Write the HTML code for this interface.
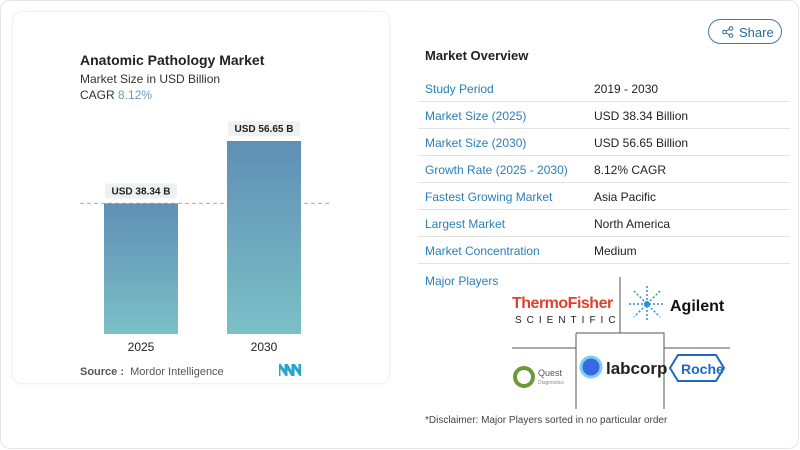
<!DOCTYPE html>
<html><head><meta charset="utf-8">
<style>
*{margin:0;padding:0;box-sizing:border-box}
body{width:800px;height:450px;background:#fff;font-family:"Liberation Sans",sans-serif;position:relative;overflow:hidden}
.outer{position:absolute;left:0;top:0;width:799px;height:449px;border:1px solid #e4e4e4;border-radius:10px}
.card{position:absolute;left:12px;top:11px;width:378px;height:373px;border:1px solid #f1f1f1;border-radius:10px;box-shadow:0 0 6px rgba(0,0,0,0.04)}
.abs{position:absolute;white-space:nowrap}
.row{position:absolute;left:418px;width:372px;height:27px;border-bottom:1px solid #e3e3e3;font-size:12px}
.row .l{position:absolute;left:7px;top:7px;color:#2a7fb8}
.row .v{position:absolute;left:176px;top:7px;color:#222}
</style></head><body>
<div class="outer"></div>
<div class="card"></div>
<div class="abs" style="left:80px;top:52px;font-size:14px;font-weight:bold;color:#222">Anatomic Pathology Market</div>
<div class="abs" style="left:80px;top:72px;font-size:12px;color:#333">Market Size in USD Billion</div>
<div class="abs" style="left:80px;top:88px;font-size:12px;color:#333">CAGR <span style="color:#6a9ac0">8.12%</span></div>
<svg id="chart" class="abs" style="left:0;top:0" width="400" height="400">
<defs><linearGradient id="g" x1="0" y1="0" x2="0" y2="1"><stop offset="0" stop-color="#5f8fb5"/><stop offset="1" stop-color="#7cc0c7"/></linearGradient></defs>
</svg>
<div class="abs" style="left:80px;top:366px;font-size:11px;color:#555"><b style="color:#555">Source :</b> &nbsp;Mordor Intelligence</div>
<svg class="abs" style="left:279px;top:364px" width="22" height="12"><path d="M0 12V0L7 10V0L14 12V0L21 10V0" fill="none" stroke="#2aa6c9" stroke-width="3"/></svg>

<div class="abs" style="left:708px;top:19px;width:74px;height:25px;border:1px solid #3a7ca8;border-radius:13px;font-size:13px;color:#2a6a98;padding:5px 0 0 30px">Share
<svg style="position:absolute;left:13px;top:6px" width="12" height="12"><circle cx="9" cy="2.5" r="1.8" fill="none" stroke="#2a6a98"/><circle cx="9" cy="9.5" r="1.8" fill="none" stroke="#2a6a98"/><circle cx="2.5" cy="6" r="1.8" fill="none" stroke="#2a6a98"/><path d="M4 5L7.5 3M4 7L7.5 9" stroke="#2a6a98"/></svg></div>
<div class="abs" style="left:425px;top:48px;font-size:13px;font-weight:bold;color:#222">Market Overview</div>
<div class="row" style="top:75px"><span class="l">Study Period</span><span class="v">2019 - 2030</span></div>
<div class="row" style="top:102px"><span class="l">Market Size (2025)</span><span class="v">USD 38.34 Billion</span></div>
<div class="row" style="top:129px"><span class="l">Market Size (2030)</span><span class="v">USD 56.65 Billion</span></div>
<div class="row" style="top:156px"><span class="l">Growth Rate (2025 - 2030)</span><span class="v">8.12% CAGR</span></div>
<div class="row" style="top:183px"><span class="l">Fastest Growing Market</span><span class="v">Asia Pacific</span></div>
<div class="row" style="top:210px"><span class="l">Largest Market</span><span class="v">North America</span></div>
<div class="row" style="top:237px"><span class="l">Market Concentration</span><span class="v">Medium</span></div>
<div class="abs" style="left:425px;top:274px;font-size:12px;color:#2a7fb8">Major Players</div>
<svg class="abs" style="left:500px;top:270px" width="240" height="150">
<path d="M120 7V63M12 78H76M76 63H164V139M76 63V139M164 78H230" stroke="#555" fill="none"/>
<text x="12" y="38" font-size="16" font-weight="bold" fill="#e0412f" font-family="Liberation Sans" letter-spacing="-0.5">ThermoFisher</text>
<text x="15" y="53" font-size="10" fill="#222" letter-spacing="5" font-family="Liberation Sans">SCIENTIFIC</text>
<circle cx="147" cy="34" r="3" fill="#2a8fd6"/>
<path d="M129 34H165M147 16V52M134 21L160 47M160 21L134 47" stroke="#2a8fd6" stroke-width="1.5" stroke-dasharray="2 2"/>
<text x="170" y="41" font-size="16" font-weight="bold" fill="#111" font-family="Liberation Sans">Agilent</text>
<circle cx="24" cy="107" r="9" fill="none" stroke="#6a9a3a" stroke-width="4"/>
<text x="38" y="106" font-size="9" fill="#555" font-family="Liberation Sans">Quest</text>
<text x="38" y="114" font-size="5" fill="#888" font-family="Liberation Sans">Diagnostics</text>
<circle cx="91" cy="97" r="10" fill="#3a68e0" stroke="#7ad0f0" stroke-width="3"/>
<text x="106" y="104" font-size="17" font-weight="bold" fill="#222" font-family="Liberation Sans">labcorp</text>
<path d="M170 98L178 85H216L224 98L216 111H178Z" fill="none" stroke="#1a6ac0" stroke-width="2"/>
<text x="181" y="104" font-size="14" font-weight="bold" fill="#1a6ac0" font-family="Liberation Sans">Roche</text>
</svg>
<div class="abs" style="left:425px;top:415px;font-size:10px;color:#444">*Disclaimer: Major Players sorted in no particular order</div>
<script>
const years=["2025","2030"];
const values=[38.34,56.65];
const labels=["USD 38.34 B","USD 56.65 B"];
const svg=document.getElementById('chart');
const NS="http://www.w3.org/2000/svg";
const base=334,scale=193/56.65,x0=[104,227],bw=74;
function y(v){return base-v*scale;}
function mk(t,a){const e=document.createElementNS(NS,t);for(const k in a)e.setAttribute(k,a[k]);svg.appendChild(e);return e;}
const dl=mk('line',{x1:80,x2:330,y1:y(values[0]),y2:y(values[0]),stroke:'#aaa','stroke-dasharray':'4 3'});


values.forEach((v,i)=>{
 const r=mk('rect',{x:x0[i],y:y(v),width:bw,height:base-y(v),fill:'url(#g)'});
 
 
 const cx=x0[i]+bw/2;
 const lb=mk('rect',{x:cx-36,y:y(v)-20,width:72,height:15,rx:3,fill:'#eef0f2'});
 
 
 const t=mk('text',{x:cx,y:y(v)-9,'text-anchor':'middle','font-size':'10','font-weight':'bold',fill:'#222'});
 t.textContent=labels[i];
 
 
 const xt=mk('text',{x:cx,y:351,'text-anchor':'middle','font-size':'12',fill:'#222'});
 xt.textContent=years[i];
 
 
});
</script>
</body></html>
